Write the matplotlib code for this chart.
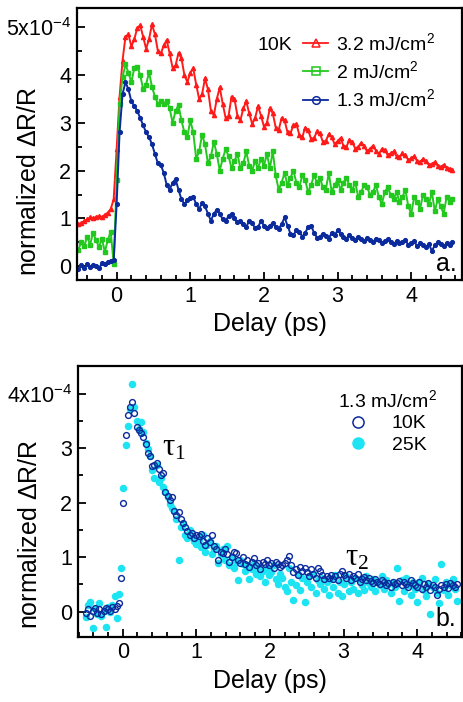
import numpy as np
import matplotlib
matplotlib.use("Agg")
import matplotlib.pyplot as plt
from matplotlib.lines import Line2D
from matplotlib.ticker import MultipleLocator

plt.rcParams['font.family'] = ['Liberation Sans', 'DejaVu Sans']
plt.rcParams['mathtext.default'] = 'regular'

# ---- panel a: 10K, three fluences (units of 1e-4), delay step 0.04 ps from -0.52 ps
red_32 = [
    0.88, 0.90, 0.95, 0.98, 1.02, 1.00, 1.03, 1.05, 1.02, 1.08,
    1.12, 1.20, 1.40, 2.45, 3.55, 4.30, 4.80, 4.85, 4.60, 4.75,
    4.98, 5.04, 4.80, 4.55, 4.75, 5.06, 4.85, 4.50, 4.45, 4.62,
    4.73, 4.45, 4.15, 4.20, 4.46, 4.35, 4.00, 3.85, 4.05, 4.14,
    3.80, 3.50, 3.60, 3.93, 3.70, 3.25, 3.16, 3.50, 3.74, 3.40,
    3.10, 3.15, 3.55, 3.50, 3.15, 3.05, 3.30, 3.45, 3.20, 2.98,
    3.10, 3.35, 3.15, 2.92, 3.00, 3.30, 3.20, 2.90, 2.85, 3.10,
    3.05, 2.80, 2.78, 2.95, 2.98, 2.75, 2.70, 2.90, 2.85, 2.66,
    2.68, 2.82, 2.78, 2.60, 2.62, 2.76, 2.70, 2.55, 2.62, 2.68,
    2.52, 2.50, 2.64, 2.60, 2.46, 2.50, 2.58, 2.52, 2.40, 2.46,
    2.52, 2.42, 2.35, 2.45, 2.44, 2.32, 2.36, 2.40, 2.30, 2.28,
    2.36, 2.32, 2.22, 2.26, 2.30, 2.20, 2.18, 2.25, 2.20, 2.12,
    2.14, 2.18, 2.10, 2.08, 2.12, 2.06, 2.04, 2.02,
]
green_2 = [
    0.35, 0.50, 0.42, 0.62, 0.45, 0.70, 0.55, 0.40, 0.58, 0.30,
    0.55, 0.72, 0.05, 1.80, 3.40, 3.95, 4.22, 4.05, 3.85, 4.15,
    4.17, 4.00, 3.70, 3.80, 4.06, 3.75, 3.55, 3.40, 3.45, 3.40,
    3.45, 3.30, 3.00, 3.25, 3.37, 3.05, 2.80, 2.70, 3.05, 2.80,
    2.25, 2.40, 2.75, 2.55, 2.15, 2.30, 2.60, 2.35, 2.00, 2.25,
    2.45, 2.30, 2.05, 2.20, 2.35, 2.05, 2.15, 2.40, 2.10, 2.00,
    2.20, 2.05, 2.25, 2.10, 2.35, 2.05, 2.40, 1.90, 1.60, 1.75,
    1.95, 1.70, 1.85, 2.00, 1.75, 1.65, 1.90, 1.80, 1.55, 1.70,
    1.90, 1.75, 1.85, 1.65, 1.60, 1.95, 1.55, 1.70, 1.80, 1.60,
    1.75, 1.85, 1.70, 1.60, 1.75, 1.45, 1.55, 1.70, 1.65, 1.50,
    1.55, 1.70, 1.45, 1.30, 1.55, 1.65, 1.50, 1.40, 1.55, 1.35,
    1.45, 1.60, 1.25, 1.10, 1.45, 1.35, 1.20, 1.50, 1.40, 1.30,
    1.55, 1.15, 1.40, 1.25, 1.10, 1.45, 1.35, 1.40,
]
blue_13 = [
    -0.05, 0.02, -0.03, 0.05, -0.02, 0.03, 0.00, -0.04, 0.06, 0.04,
    0.08, 0.10, 0.12, 1.30, 2.80, 3.60, 3.85, 3.70, 3.45, 3.35,
    3.25, 3.10, 2.95, 2.80, 2.70, 2.55, 2.35, 2.15, 2.12, 1.95,
    1.70, 1.60, 1.75, 1.82, 1.60, 1.40, 1.30, 1.38, 1.42, 1.45,
    1.30, 1.20, 1.32, 1.25, 1.10, 0.95, 1.10, 1.18, 1.10, 0.98,
    0.95, 1.05, 1.10, 1.00, 0.92, 0.95, 0.88, 0.82, 0.95, 0.90,
    0.80, 0.82, 0.95, 0.85, 0.80, 0.85, 0.90, 0.82, 0.78, 0.88,
    1.02, 0.85, 0.68, 0.65, 0.75, 0.72, 0.62, 0.70, 0.82, 0.85,
    0.70, 0.60, 0.62, 0.68, 0.64, 0.58, 0.70, 0.65, 0.75, 0.68,
    0.62, 0.58, 0.65, 0.60, 0.55, 0.62, 0.58, 0.52, 0.60, 0.55,
    0.50, 0.58, 0.55, 0.48, 0.52, 0.56, 0.50, 0.46, 0.52, 0.48,
    0.50, 0.54, 0.45, 0.48, 0.52, 0.42, 0.48, 0.45, 0.40, 0.46,
    0.32, 0.44, 0.50, 0.46, 0.42, 0.48, 0.45, 0.50,
]
delay_a = np.round(-0.52 + 0.04 * np.arange(len(red_32)), 2)

# ---- panel b: 1.3 mJ/cm2 at 10K and 25K, delay step 0.03 ps from -0.50 ps
k10 = [
    -0.03, 0.05, -0.08, 0.02, 0.06, -0.02, 0.04, -0.05, 0.01, 0.07,
    0.05, 0.02, 0.08, 0.04, 0.10, 0.16, 0.62, 2.00, 3.25, 3.60,
    3.75, 3.85, 3.65, 3.38, 3.33, 3.28, 3.20, 3.08, 2.92, 2.85,
    2.68, 2.70, 2.72, 2.62, 2.50, 2.55, 2.20, 2.12, 2.05, 2.10,
    1.85, 1.78, 1.82, 1.70, 1.62, 1.55, 1.48, 1.40, 1.45, 1.35,
    1.40, 1.38, 1.42, 1.30, 1.22, 1.35, 1.28, 1.40, 1.20, 1.15,
    0.95, 1.10, 1.08, 1.15, 1.05, 0.92, 1.00, 1.10, 1.08, 0.95,
    0.90, 1.00, 0.88, 0.95, 0.82, 0.92, 0.98, 0.85, 0.90, 0.78,
    0.92, 0.88, 0.95, 0.85, 0.90, 0.80, 0.92, 0.88, 0.82, 0.86,
    0.90, 0.95, 1.02, 0.85, 0.72, 0.78, 0.68, 0.82, 0.75, 0.80,
    0.72, 0.65, 0.78, 0.70, 0.62, 0.80, 0.75, 0.68, 0.60, 0.65,
    0.62, 0.68, 0.60, 0.65, 0.58, 0.70, 0.75, 0.68, 0.62, 0.70,
    0.58, 0.65, 0.62, 0.70, 0.55, 0.60, 0.64, 0.58, 0.62, 0.56,
    0.52, 0.60, 0.55, 0.50, 0.58, 0.55, 0.48, 0.52, 0.46, 0.55,
    0.50, 0.52, 0.56, 0.48, 0.54, 0.50, 0.45, 0.58, 0.52, 0.48,
    0.45, 0.55, 0.42, 0.50, 0.46, 0.52, 0.40, 0.48, 0.45, 0.30,
    0.42, 0.48, 0.45, 0.50, 0.44, 0.52, 0.48, 0.46, 0.50,
]
k25 = [
    -0.10, 0.12, 0.18, -0.30, 0.05, -0.05, 0.15, -0.08, 0.02, -0.28,
    0.08, 0.00, 0.12, 0.28, -0.12, 0.32, 0.80, 2.27, 3.05, 3.40,
    3.72, 4.18, 3.75, 3.50, 3.35, 3.48, 3.30, 3.10, 2.98, 2.85,
    2.60, 2.45, 2.70, 2.38, 2.45, 2.28, 2.20, 2.10, 1.98, 1.90,
    1.85, 1.70, 0.95, 1.55, 1.60, 1.40, 1.35, 1.50, 1.38, 1.30,
    1.25, 1.32, 1.18, 1.40, 1.10, 1.22, 1.30, 1.05, 1.15, 1.20,
    0.90, 1.05, 1.15, 0.95, 1.20, 0.85, 1.00, 0.80, 0.92, 0.58,
    0.95, 0.88, 0.75, 0.85, 0.60, 0.78, 0.90, 0.70, 0.82, 0.65,
    0.75, 0.55, 0.80, 0.68, 0.72, 0.85, 0.60, 0.50, 0.70, 0.62,
    0.45, 0.38, 0.80, 0.55, 0.22, 0.48, 0.70, 0.40, 0.62, 0.18,
    0.55, 0.65, 0.45, 0.70, 0.35, 0.58, 0.50, 0.62, 0.42, 0.55,
    0.30, 0.60, 0.45, 0.68, 0.35, 0.55, 0.28, 0.50, 0.65, 0.38,
    0.55, 0.42, 0.62, 0.35, 0.58, 0.48, 0.40, 0.65, 0.52, 0.45,
    0.60, 0.38, 0.55, 0.48, 0.65, 0.42, 0.58, 0.50, 0.35, 0.55,
    0.45, 0.80, 0.20, 0.58, 0.38, 0.62, 0.48, 0.30, 0.55, 0.42,
    0.18, 0.55, 0.62, 0.40, 0.28, 0.50, -0.05, 0.45, 0.60, 0.35,
    0.15, 0.88, 0.40, 0.55, 0.30, 0.48, 0.60, 0.42, 0.20,
]
delay_b = np.round(-0.50 + 0.03 * np.arange(len(k10)), 2)

RED = '#ff1a1a'
GREEN = '#22c81e'
NAVY = '#0b2a9c'
CYAN = '#1de4f2'

fig = plt.figure(figsize=(4.63, 7.02), dpi=100)
ax1 = fig.add_axes([0.166, 0.601, 0.832, 0.3875])
ax2 = fig.add_axes([0.168, 0.093, 0.830, 0.385])


def style(ax, label_y):
    for s in ax.spines.values():
        s.set_linewidth(1.6)
    ax.xaxis.set_major_locator(MultipleLocator(1))
    ax.xaxis.set_minor_locator(MultipleLocator(0.2))
    ax.yaxis.set_major_locator(MultipleLocator(1))
    ax.yaxis.set_minor_locator(MultipleLocator(0.5))
    ax.tick_params(which='both', direction='in', top=False, right=False,
                   labelsize=15.5, width=1.3)
    ax.tick_params(which='major', length=6, pad=4)
    ax.tick_params(which='minor', length=3.5)
    ax.set_xlabel('Delay (ps)', fontsize=18, labelpad=4)
    ax.set_ylabel('normalized $\\Delta$R/R', fontsize=18)
    ax.yaxis.set_label_coords(-0.092, label_y)


# panel a
ax1.plot(delay_a, red_32, '-', color=RED, lw=1.4, marker='^', ms=3.0)
ax1.plot(delay_a, green_2, '-', color=GREEN, lw=1.4, marker='s', ms=2.7)
ax1.plot(delay_a, blue_13, '-', color=NAVY, lw=1.4, marker='o', ms=2.7)
ax1.set_xlim(-0.54, 4.69)
ax1.set_ylim(-0.29, 5.4)
style(ax1, 0.364)
ax1.set_yticks([0, 1, 2, 3, 4, 5])
ax1.set_yticklabels(['0', '1', '2', '3', '4', '5x10$^{-4}$'])

handles = [
    Line2D([], [], color=RED, lw=1.3, marker='^', ms=6, mfc='none', mew=1.1),
    Line2D([], [], color=GREEN, lw=1.3, marker='s', ms=5.5, mfc='none', mew=1.1),
    Line2D([], [], color=NAVY, lw=1.3, marker='o', ms=5.5, mfc='none', mew=1.1),
]
labels = ['3.2 mJ/cm$^2$', '2 mJ/cm$^2$', '1.3 mJ/cm$^2$']
ax1.legend(handles, labels, loc='upper right', bbox_to_anchor=(0.95, 0.94),
           frameon=False, fontsize=14, handlelength=1.3, handletextpad=0.4,
           labelspacing=0.32, borderaxespad=0.0)
ax1.text(0.514, 0.862, '10K', transform=ax1.transAxes, fontsize=14,
         ha='center', va='center')
ax1.text(0.985, 0.015, 'a.', transform=ax1.transAxes, fontsize=18,
         ha='right', va='bottom')

# panel b
ax2.plot(delay_b, k25, 'o', color=CYAN, ms=4.4, mec=CYAN, ls='none')
ax2.plot(delay_b, k10, 'o', mfc='none', mec=NAVY, ms=4.2, mew=1.0, ls='none')
ax2.set_xlim(-0.61, 4.61)
ax2.set_ylim(-0.46, 4.5)
style(ax2, 0.378)
ax2.set_yticks([0, 1, 2, 3, 4])
ax2.set_yticklabels(['0', '1', '2', '3', '4x10$^{-4}$'])

handles_b = [
    Line2D([], [], ls='none', marker='o', ms=8, mfc='none', mec=NAVY, mew=1.1),
    Line2D([], [], ls='none', marker='o', ms=8, mfc=CYAN, mec=CYAN),
]
ax2.legend(handles_b, ['10K', '25K'], loc='upper right',
           bbox_to_anchor=(0.955, 0.945), frameon=False, fontsize=14,
           handlelength=1.0, handletextpad=1.2, labelspacing=0.2,
           borderaxespad=0.0, title='1.3 mJ/cm$^2$', title_fontsize=14)
ax2.text(0.70, 3.0, '$τ_1$', fontsize=22, family='Liberation Serif',
         ha='center', va='center')
ax2.text(3.18, 0.98, '$τ_2$', fontsize=22, family='Liberation Serif',
         ha='center', va='center')
ax2.text(0.985, 0.02, 'b.', transform=ax2.transAxes, fontsize=18,
         ha='right', va='bottom')

fig.savefig('out.png', dpi=100)
